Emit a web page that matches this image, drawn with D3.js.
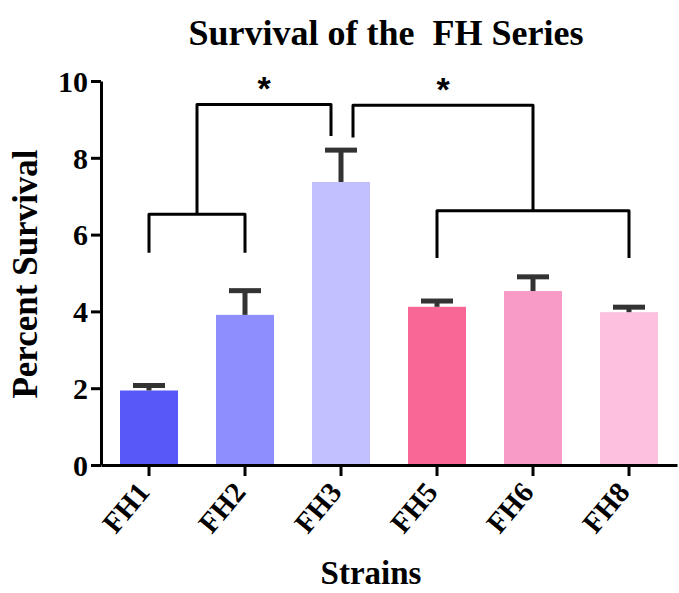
<!DOCTYPE html>
<html>
<head>
<meta charset="utf-8">
<script src="https://cdn.jsdelivr.net/npm/d3@7"></script>
<style>
  body { margin: 0; background: #fff; }
  text { font-family: "Liberation Serif", "Times New Roman", serif; font-weight: bold; fill: #000; }
</style>
</head>
<body>
<svg id="chart" width="679" height="593"></svg>
<script>
var strains = ["FH1", "FH2", "FH3", "FH5", "FH6", "FH8"];
var survival = [1.94, 3.91, 7.37, 4.12, 4.53, 3.98];
var sem = [0.13, 0.63, 0.83, 0.15, 0.37, 0.13];
var barColors = ["#5858F9", "#8E8EFF", "#C1C1FF", "#F86796", "#F89BC7", "#FDC0DF"];
var yTicks = [0, 2, 4, 6, 8, 10];

// lower brackets: [left strain, right strain, bar height, leg end]
var pairs = [["FH1", "FH2", 6.53, 5.53], ["FH5", "FH8", 6.62, 5.39]];
// upper brackets: top height, leg end at FH3
var tops = [[9.39, 8.57], [9.37, 8.53]];

var plot = { left: 101, right: 677, top: 81, bottom: 465 };

var svg = d3.select("#chart");

var x = d3.scaleBand()
    .domain(strains)
    .range([plot.left, plot.right])
    .paddingInner(0.396)
    .paddingOuter(0.198);
var y = d3.scaleLinear().domain([0, 10]).range([plot.bottom, plot.top]);

function cx(s) { return x(s) + x.bandwidth() / 2; }

// bars
svg.append("g").selectAll("rect")
    .data(strains)
    .enter().append("rect")
    .attr("x", function(d) { return x(d); })
    .attr("width", x.bandwidth())
    .attr("y", function(d, i) { return y(survival[i]); })
    .attr("height", function(d, i) { return plot.bottom - y(survival[i]); })
    .attr("fill", function(d, i) { return barColors[i]; });

// error bars (upper only)
var err = svg.append("g").attr("stroke", "#333").attr("stroke-width", 5);
strains.forEach(function(s, i) {
    err.append("line")
        .attr("x1", cx(s)).attr("x2", cx(s))
        .attr("y1", y(survival[i])).attr("y2", y(survival[i] + sem[i]));
    err.append("line")
        .attr("x1", cx(s) - 16).attr("x2", cx(s) + 16)
        .attr("y1", y(survival[i] + sem[i])).attr("y2", y(survival[i] + sem[i]));
});

// axes
var yAxis = d3.axisLeft(y).tickValues(yTicks).tickSize(10).tickSizeOuter(0).tickPadding(3);
var xAxis = d3.axisBottom(x).tickSize(11).tickSizeOuter(0).tickFormat("");

var gy = svg.append("g")
    .attr("transform", "translate(" + plot.left + ",0)")
    .call(yAxis);
gy.selectAll("text").style("font-size", "30px").attr("fill", "#000")
    .style("font-family", "Liberation Serif").style("font-weight", "bold")
    .attr("dy", "0.34em");

var gx = svg.append("g")
    .attr("transform", "translate(0," + plot.bottom + ")")
    .call(xAxis);

svg.selectAll(".domain, .tick line").attr("stroke", "#000").attr("stroke-width", 3);

// rotated strain labels
svg.append("g").selectAll("text")
    .data(strains)
    .enter().append("text")
    .attr("transform", function(d) { return "translate(" + (cx(d) + 2) + "," + (plot.bottom + 28) + ") rotate(-50)"; })
    .attr("text-anchor", "end")
    .style("font-size", "29px")
    .text(function(d) { return d; });

// significance brackets
var br = svg.append("g")
    .attr("fill", "none")
    .attr("stroke", "#000")
    .attr("stroke-width", 3)
    .attr("stroke-linejoin", "round");

pairs.forEach(function(p) {
    br.append("path").attr("d",
        "M" + cx(p[0]) + "," + y(p[3]) +
        "V" + y(p[2]) +
        "H" + cx(p[1]) +
        "V" + y(p[3]));
});

var midL = (cx(pairs[0][0]) + cx(pairs[0][1])) / 2;
var midR = (cx(pairs[1][0]) + cx(pairs[1][1])) / 2;
var fh3 = cx("FH3");

br.append("path").attr("d",
    "M" + midL + "," + y(pairs[0][2]) +
    "V" + y(tops[0][0]) +
    "H" + (fh3 - 10) +
    "V" + y(tops[0][1]));
br.append("path").attr("d",
    "M" + (fh3 + 12) + "," + y(tops[1][1]) +
    "V" + y(tops[1][0]) +
    "H" + midR +
    "V" + y(pairs[1][2]));

// stars
[[midL, fh3 - 10, tops[0][0]], [fh3 + 12, midR, tops[1][0]]].forEach(function(s) {
    svg.append("text")
        .attr("x", (s[0] + s[1]) / 2)
        .attr("y", y(s[2]) - 4)
        .attr("text-anchor", "middle")
        .style("font-family", "Liberation Sans, Arial, sans-serif")
        .style("font-size", "34px")
        .text("*");
});

// titles
svg.append("text")
    .attr("x", 386)
    .attr("y", 45)
    .attr("text-anchor", "middle")
    .style("font-size", "36px")
    .style("white-space", "pre")
    .text("Survival of the  FH Series");

svg.append("text")
    .attr("transform", "translate(37," + ((plot.top + plot.bottom) / 2 + 1) + ") rotate(-90)")
    .attr("text-anchor", "middle")
    .style("font-size", "35px")
    .text("Percent Survival");

svg.append("text")
    .attr("x", 371)
    .attr("y", 584)
    .attr("text-anchor", "middle")
    .style("font-size", "33px")
    .text("Strains");
</script>
</body>
</html>
